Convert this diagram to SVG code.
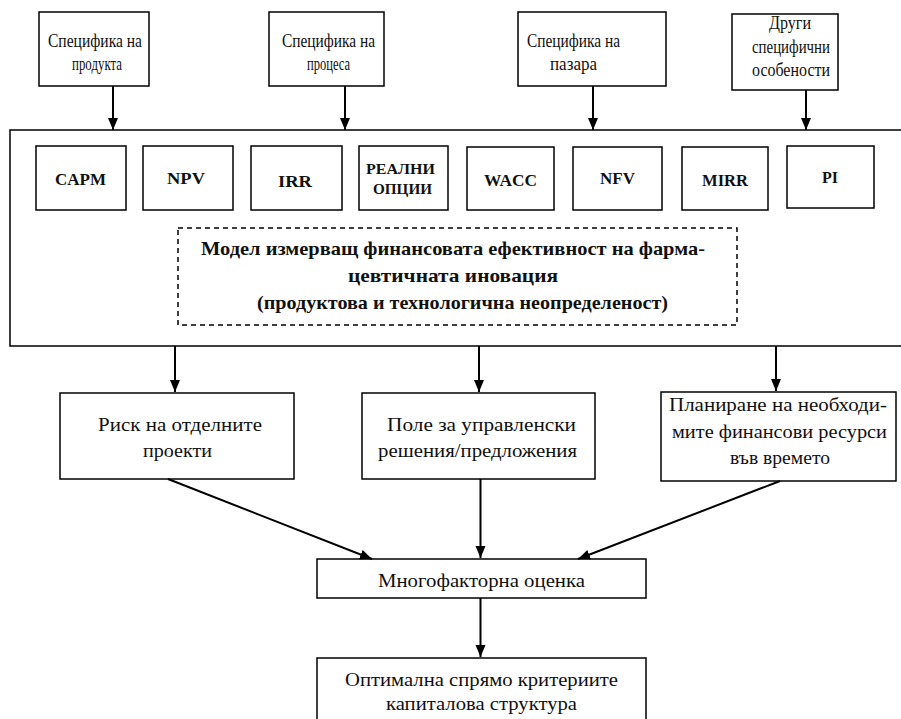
<svg xmlns="http://www.w3.org/2000/svg" width="901" height="719" viewBox="0 0 901 719" font-family="'Liberation Serif', 'Times New Roman', 'DejaVu Serif', serif">
<defs>
<style>
.box{fill:#fff;stroke:#000;stroke-width:1.5}
.dash{fill:none;stroke:#000;stroke-width:1.5;stroke-dasharray:5,4}
text{font-family:'Liberation Serif','Times New Roman','DejaVu Serif',serif}
.t{font-size:19px;fill:#111}
.tt{font-size:19.5px;fill:#111}
.b{font-size:17px;font-weight:bold;fill:#111}
.bb{font-size:19px;font-weight:bold;fill:#111}
.c{fill:none;stroke:#000;stroke-width:2}
</style>
<marker id="ah" markerUnits="userSpaceOnUse" markerWidth="12" markerHeight="12" viewBox="0 0 12 10" refX="12" refY="5" orient="auto">
<path d="M0,0 L12,5 L0,10 Z" fill="#000"/>
</marker>
</defs>
<rect width="901" height="719" fill="#fff"/>

<g id="main">
<rect class="box" x="10" y="130" width="900" height="216"/>
</g>

<g id="top1"><rect class="box" x="39" y="12" width="110" height="74"/>
<text class="tt" x="48" y="47" textLength="94" lengthAdjust="spacingAndGlyphs">Специфика на</text>
<text class="tt" x="72" y="70" textLength="50" lengthAdjust="spacingAndGlyphs">продукта</text></g>
<g id="top2"><rect class="box" x="269" y="12" width="115" height="74"/>
<text class="tt" x="282" y="47" textLength="93" lengthAdjust="spacingAndGlyphs">Специфика на</text>
<text class="tt" x="307" y="70" textLength="43" lengthAdjust="spacingAndGlyphs">процеса</text></g>
<g id="top3"><rect class="box" x="518" y="12" width="148" height="74"/>
<text class="tt" x="527" y="47" textLength="93" lengthAdjust="spacingAndGlyphs">Специфика на</text>
<text class="tt" x="550" y="70" textLength="47" lengthAdjust="spacingAndGlyphs">пазара</text></g>
<g id="top4"><rect class="box" x="732" y="14" width="106" height="76"/>
<text class="tt" x="769" y="29" textLength="42" lengthAdjust="spacingAndGlyphs">Други</text>
<text class="tt" x="752" y="53" textLength="78" lengthAdjust="spacingAndGlyphs">специфични</text>
<text class="tt" x="752" y="76" textLength="78" lengthAdjust="spacingAndGlyphs">особености</text></g>

<g id="capm"><rect class="box" x="36" y="146" width="90" height="64"/>
<text class="b" x="55" y="185" textLength="51" lengthAdjust="spacingAndGlyphs">CAPM</text></g>
<g id="npv"><rect class="box" x="143" y="146" width="90" height="64"/>
<text class="b" x="167" y="184" textLength="38" lengthAdjust="spacingAndGlyphs">NPV</text></g>
<g id="irr"><rect class="box" x="251" y="146" width="91" height="64"/>
<text class="b" x="278" y="187" textLength="34" lengthAdjust="spacingAndGlyphs">IRR</text></g>
<g id="ro"><rect class="box" x="359" y="146" width="89" height="64"/>
<text class="b" x="366" y="174" style="font-size:14px" textLength="69" lengthAdjust="spacingAndGlyphs">РЕАЛНИ</text>
<text class="b" x="373" y="194" style="font-size:14px" textLength="59" lengthAdjust="spacingAndGlyphs">ОПЦИИ</text></g>
<g id="wacc"><rect class="box" x="467" y="147" width="87" height="63"/>
<text class="b" x="484" y="186" textLength="53" lengthAdjust="spacingAndGlyphs">WACC</text></g>
<g id="nfv"><rect class="box" x="573" y="147" width="89" height="63"/>
<text class="b" x="600" y="184" textLength="35" lengthAdjust="spacingAndGlyphs">NFV</text></g>
<g id="mirr"><rect class="box" x="682" y="147" width="86" height="63"/>
<text class="b" x="702" y="186" textLength="46" lengthAdjust="spacingAndGlyphs">MIRR</text></g>
<g id="pi"><rect class="box" x="787" y="146" width="87" height="62"/>
<text class="b" x="822" y="183" textLength="16" lengthAdjust="spacingAndGlyphs">PI</text></g>

<g id="model"><rect class="dash" x="178" y="228" width="559" height="97"/>
<text class="bb" x="201" y="255" textLength="504" lengthAdjust="spacingAndGlyphs">Модел измерващ финансовата ефективност на фарма-</text>
<text class="bb" x="348" y="282" textLength="210" lengthAdjust="spacingAndGlyphs">цевтичната иновация</text>
<text class="bb" x="257" y="309" textLength="411" lengthAdjust="spacingAndGlyphs">(продуктова и технологична неопределеност)</text></g>

<g id="risk"><rect class="box" x="60" y="393" width="234" height="86"/>
<text class="t" x="98" y="431" textLength="164" lengthAdjust="spacingAndGlyphs">Риск на отделните</text>
<text class="t" x="143" y="457" textLength="69" lengthAdjust="spacingAndGlyphs">проекти</text></g>
<g id="field"><rect class="box" x="362" y="393" width="233" height="86"/>
<text class="t" x="387" y="431" textLength="189" lengthAdjust="spacingAndGlyphs">Поле за управленски</text>
<text class="t" x="378" y="457" textLength="199" lengthAdjust="spacingAndGlyphs">решения/предложения</text></g>
<g id="plan"><rect class="box" x="661" y="392" width="235" height="89"/>
<text class="t" x="669" y="411" textLength="218" lengthAdjust="spacingAndGlyphs">Планиране на необходи-</text>
<text class="t" x="672" y="438" textLength="215" lengthAdjust="spacingAndGlyphs">мите финансови ресурси</text>
<text class="t" x="730" y="464" textLength="100" lengthAdjust="spacingAndGlyphs">във времето</text></g>

<g id="multi"><rect class="box" x="317" y="559" width="329" height="39"/>
<text class="t" x="378" y="587" textLength="207" lengthAdjust="spacingAndGlyphs">Многофакторна оценка</text></g>
<g id="optimal"><rect class="box" x="317" y="658" width="329" height="80"/>
<text class="t" x="345" y="686" textLength="273" lengthAdjust="spacingAndGlyphs">Оптимална спрямо критериите</text>
<text class="t" x="386" y="710" textLength="191" lengthAdjust="spacingAndGlyphs">капиталова структура</text></g>

<g id="connectors">
<line class="c" x1="113" y1="86" x2="113" y2="130" marker-end="url(#ah)"/>
<line class="c" x1="345" y1="86" x2="345" y2="130" marker-end="url(#ah)"/>
<line class="c" x1="593" y1="86" x2="593" y2="130" marker-end="url(#ah)"/>
<line class="c" x1="806" y1="90" x2="806" y2="130" marker-end="url(#ah)"/>
<line class="c" x1="175" y1="346" x2="175" y2="392" marker-end="url(#ah)"/>
<line class="c" x1="479" y1="346" x2="479" y2="392" marker-end="url(#ah)"/>
<line class="c" x1="776" y1="346" x2="776" y2="391" marker-end="url(#ah)"/>
<line class="c" x1="168" y1="479" x2="372" y2="559" marker-end="url(#ah)"/>
<line class="c" x1="480.5" y1="479" x2="480.5" y2="558" marker-end="url(#ah)"/>
<line class="c" x1="780" y1="481" x2="578" y2="559" marker-end="url(#ah)"/>
<line class="c" x1="480.5" y1="598" x2="480.5" y2="657" marker-end="url(#ah)"/>
</g>
</svg>
